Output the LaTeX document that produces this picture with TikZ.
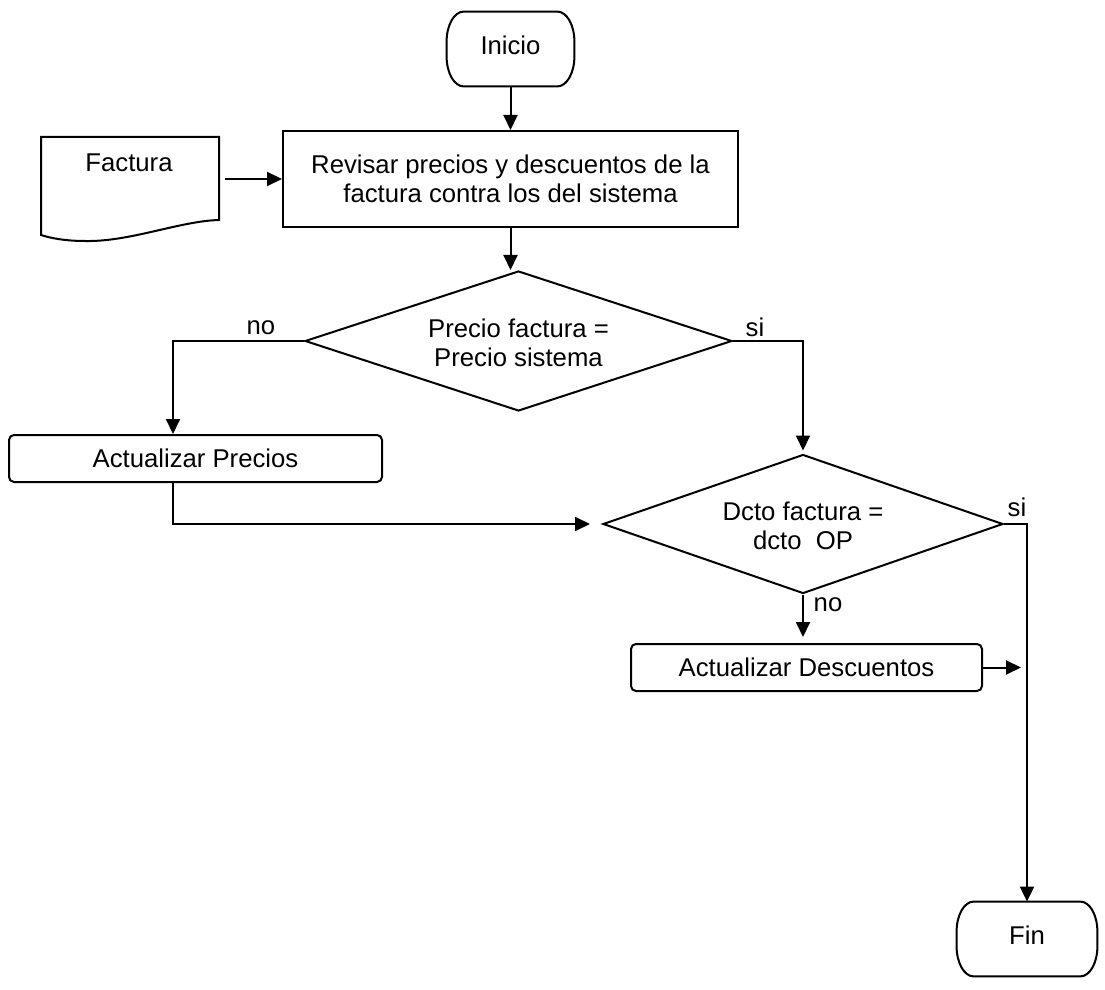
\documentclass[tikz,border=0pt]{standalone}
\usepackage{fontspec}
\setmainfont{Liberation Sans}
\usetikzlibrary{shapes.geometric,arrows.meta}
\tikzset{
  ln/.style={line width=1pt, draw=black},
  arr/.style={ln, -{Triangle[length=7.5pt,width=7pt]}},
  txt/.style={font=\fontsize{12.85pt}{14.5pt}\selectfont, align=center, inner sep=0pt},
  procbox/.style={txt, draw, line width=1pt},
  roundbox/.style={txt, draw, line width=1pt, rounded corners=2.5pt},
  decision/.style={diamond, draw, line width=1pt, inner sep=0pt},
}
\newcommand\termoutline[1]{%
  \draw[ln] ([xshift=8.5pt]#1.north west) -- ([xshift=-8.5pt]#1.north east)
    arc[start angle=90,end angle=0,x radius=8.5pt,y radius=15pt]
    -- ([yshift=15pt]#1.south east)
    arc[start angle=0,end angle=-90,x radius=8.5pt,y radius=15pt]
    -- ([xshift=8.5pt]#1.south west)
    arc[start angle=270,end angle=180,x radius=8.5pt,y radius=15pt]
    -- ([yshift=-15pt]#1.north west)
    arc[start angle=180,end angle=90,x radius=8.5pt,y radius=15pt]
    -- cycle;}
\begin{document}
\begin{tikzpicture}[x=0.5pt,y=-0.5pt]
\useasboundingbox[fill=white] (0,0) rectangle (1105,990);

% Inicio
\node[txt, minimum width=63.5pt, minimum height=37pt, text depth=4pt] (ini) at (510.5,49) {Inicio};
\termoutline{ini}

% Revisar
\node[procbox, minimum width=227.5pt, minimum height=48pt] (rev) at (510.5,179)
  {Revisar precios y descuentos de la\\factura contra los del sistema};

% Factura document
\node[inner sep=0pt, minimum width=89pt, minimum height=49pt] (fac) at (130,186) {};
\draw[ln] (41,137) -- (219,137) -- (219,220)
  .. controls (180,221) and (130,242) .. (85,241)
  .. controls (65,241) and (50,238) .. (41,235) -- cycle;
\node[txt] (factxt) at (129,163) {Factura};

% Decision 1
\node[decision, minimum width=213.5pt, minimum height=70pt] (d1) at (518.5,341) {};
\node[txt] (d1t) at (518.5,342.5) {Precio factura =\\Precio sistema};

% Actualizar Precios
\node[roundbox, minimum width=186.5pt, minimum height=23.5pt] (actP) at (195.5,458.5) {Actualizar Precios};
\coordinate (px) at (173,435);

% Decision 2
\node[decision, minimum width=200pt, minimum height=69.5pt] (d2) at (803,524) {};
\node[txt] (d2t) at (803,525.5) {Dcto factura =\\dcto\ \ OP};

% Actualizar Descuentos
\node[roundbox, minimum width=175.5pt, minimum height=23.5pt] (actD) at (806.5,667.5) {Actualizar Descuentos};

% Fin
\node[txt, minimum width=70pt, minimum height=37pt, text depth=4pt] (fin) at (1027,939) {Fin};
\termoutline{fin}

% connectors
\draw[arr] (ini.south) -- (ini.south |- rev.north);
\draw[arr] ([xshift=3pt]fac.east |- rev.west) -- (rev.west);
\draw[arr] (rev.south) -- (rev.south |- d1.north);
\draw[arr] (d1.west) -| (px |- actP.north);
\draw[arr, shorten >=6pt] (px |- actP.south) |- (d2.west);
\draw[arr, shorten >=1.5pt] (d1.east) -| (d2.north);
\draw[arr] (d2.east) -| (fin.north);
\draw[arr, shorten >=3pt] (d2.south) -- (d2.south |- actD.north);
\draw[arr, shorten >=3pt] (actD.east) -- (actD.east -| fin.north);

% labels
\node[txt] (l1) at (261,328) {no};
\node[txt] (l2) at (755,327) {si};
\node[txt] (l3) at (1017,507) {si};
\node[txt] (l4) at (828,605) {no};
\end{tikzpicture}
\end{document}
